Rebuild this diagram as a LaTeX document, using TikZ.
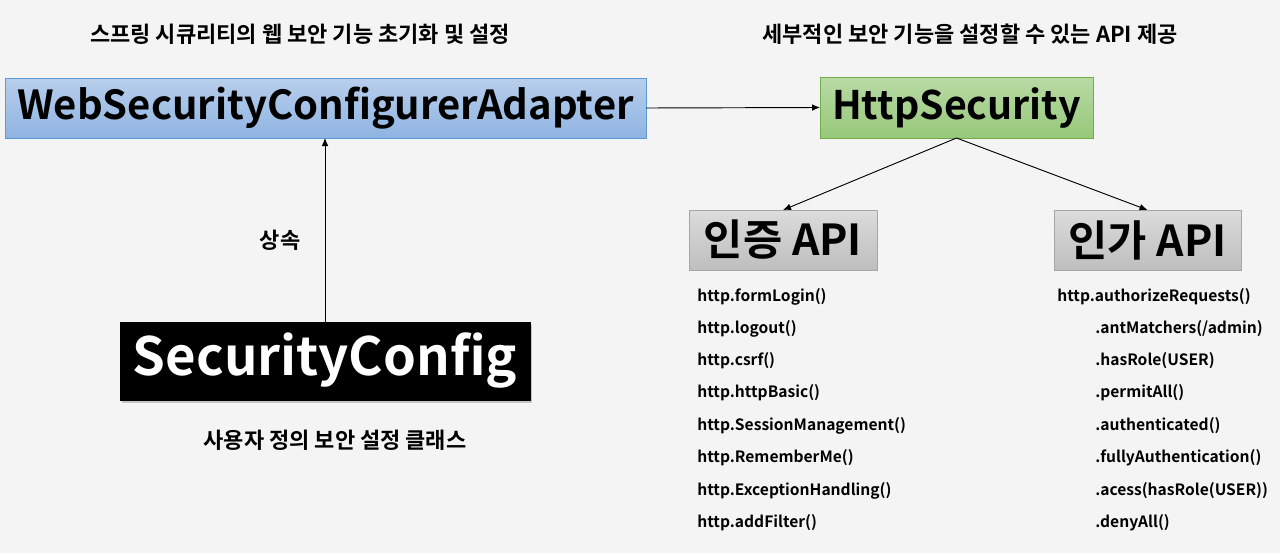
\documentclass[tikz,border=0pt]{standalone}
\usepackage{fontspec}
\setmainfont{Noto Sans CJK KR}[BoldFont={Noto Sans CJK KR Bold}]
\usetikzlibrary{shadows,arrows.meta}
\definecolor{bgcol}{RGB}{244,244,244}
\begin{document}
\begin{tikzpicture}[x=0.75pt,y=-0.75pt,
  box/.style={draw, outer sep=0pt, inner sep=0pt},
  title/.style={font=\bfseries\fontsize{16.5}{18}\selectfont},
  item/.style={anchor=west, inner sep=0pt, font=\bfseries\fontsize{11.7}{13}\selectfont},
  link/.style={-{Latex[length=6pt,width=5pt]}, line width=0.7pt}]
\fill[bgcol] (0,0) rectangle (1280,553);
\useasboundingbox (0,0) rectangle (1280,553);
\node[title] (lefttitle) at (300,34) {스프링 시큐리티의 웹 보안 기능 초기화 및 설정};
\node[title] (righttitle) at (970,34) {세부적인 보안 기능을 설정할 수 있는 API 제공};
\node[box, draw={rgb,255:red,91;green,155;blue,213}, top color={rgb,255:red,184;green,206;blue,236}, bottom color={rgb,255:red,143;green,180;blue,226}, minimum width=480.75pt, minimum height=45pt, font=\bfseries\fontsize{30}{33}\selectfont] (wsca) at (325.5,108) {WebSecurityConfigurerAdapter};
\node[box, draw={rgb,255:red,112;green,173;blue,71}, top color={rgb,255:red,185;green,218;blue,165}, bottom color={rgb,255:red,150;green,200;blue,122}, minimum width=204.75pt, minimum height=45.75pt, font=\bfseries\fontsize{29.5}{32}\selectfont] (httpsec) at (956.5,107.5) {HttpSecurity};
\node[box, draw=black, fill=black, text=white, drop shadow={shadow xshift=1.5pt, shadow yshift=-2pt, opacity=0.4}, minimum width=307.5pt, minimum height=58.5pt, font=\bfseries\fontsize{39.5}{43}\selectfont] (seccfg) at (325,361) {SecurityConfig};
\node[box, draw={rgb,255:red,166;green,166;blue,166}, top color={rgb,255:red,220;green,220;blue,220}, bottom color={rgb,255:red,190;green,190;blue,190}, minimum width=141pt, minimum height=45pt, font=\bfseries\fontsize{32}{35}\selectfont] (authn) at (783,240) {인증 API};
\node[box, draw={rgb,255:red,166;green,166;blue,166}, top color={rgb,255:red,220;green,220;blue,220}, bottom color={rgb,255:red,190;green,190;blue,190}, minimum width=140.25pt, minimum height=45pt, font=\bfseries\fontsize{32}{35}\selectfont] (authz) at (1147.5,240) {인가 API};
\node[title] (inherit) at (280,240) {상속};
\node[title] (usercls) at (335,440) {사용자 정의 보안 설정 클래스};
\draw[link] (wsca.east) -- (httpsec.west);
\draw[link] (seccfg.north) -- (seccfg.north |- wsca.south);
\draw[link] (httpsec.south) -- (authn.north);
\draw[link] (httpsec.south) -- (authz.north);
% authentication API list
\node[item] (n1) at (697,297) {http.formLogin()};
\node[item] (n2) at (697,329) {http.logout()};
\node[item] (n3) at (697,361) {http.csrf()};
\node[item] (n4) at (697,393) {http.httpBasic()};
\node[item] (n5) at (697,426) {http.SessionManagement()};
\node[item] (n6) at (697,458) {http.RememberMe()};
\node[item] (n7) at (697,491) {http.ExceptionHandling()};
\node[item] (n8) at (697,523) {http.addFilter()};
% authorization API list
\node[item] (z1) at (1057,297) {http.authorizeRequests()};
\node[item] (z2) at (1095,329) {.antMatchers(/admin)};
\node[item] (z3) at (1095,361) {.hasRole(USER)};
\node[item] (z4) at (1095,393) {.permitAll()};
\node[item] (z5) at (1095,426) {.authenticated()};
\node[item] (z6) at (1095,458) {.fullyAuthentication()};
\node[item] (z7) at (1095,491) {.acess(hasRole(USER))};
\node[item] (z8) at (1095,523) {.denyAll()};
\end{tikzpicture}
\end{document}
